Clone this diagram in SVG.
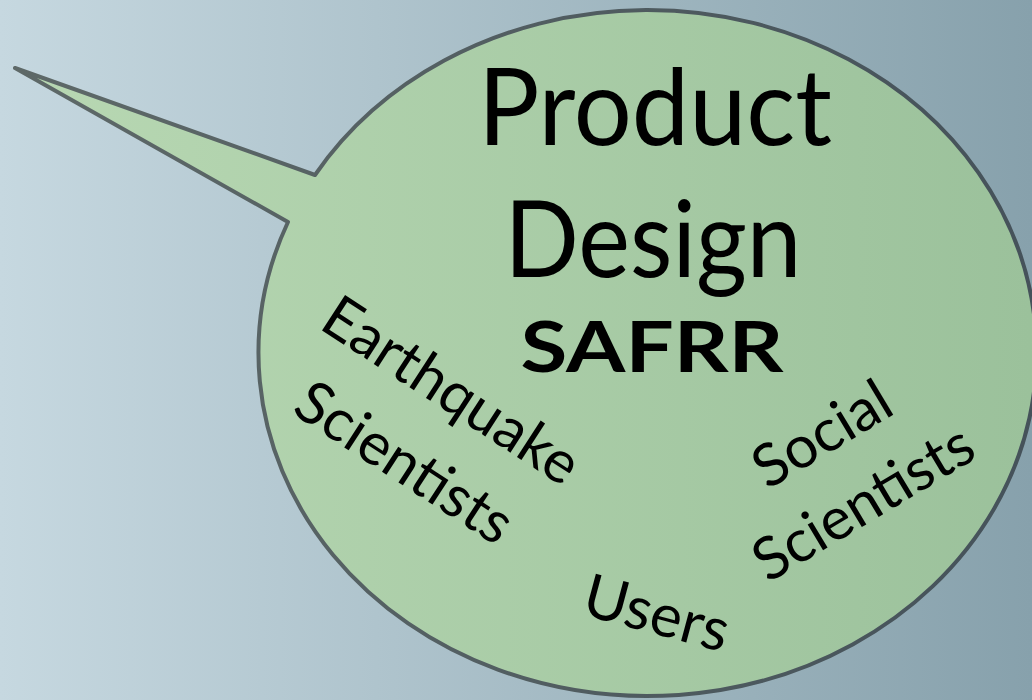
<svg xmlns="http://www.w3.org/2000/svg" width="1032" height="700" viewBox="0 0 1032 700">
<defs>
<linearGradient id="bg" x1="0" y1="0" x2="1" y2="0">
<stop offset="0" stop-color="#c6d8e0"/>
<stop offset="1" stop-color="#87a1ac"/>
</linearGradient>
<linearGradient id="fill" gradientUnits="userSpaceOnUse" x1="15" y1="0" x2="1032" y2="0">
<stop offset="0" stop-color="#b8d8b3"/>
<stop offset="1" stop-color="#9bc19b"/>
</linearGradient>
<linearGradient id="line" gradientUnits="userSpaceOnUse" x1="15" y1="0" x2="1032" y2="0">
<stop offset="0" stop-color="#5e6968"/>
<stop offset="1" stop-color="#45525a"/>
</linearGradient>
<style>
.t{font-family:Lato,"Gill Sans","Open Sans",sans-serif;fill:#000;}
.c{text-anchor:middle;}
</style>
</defs>
<rect width="1032" height="700" fill="url(#bg)"/>
<g id="bubble">
<path d="M315,175 L15,68 L288,222 A389,343 0 1 0 315,175 Z" fill="url(#fill)" stroke="url(#line)" stroke-width="4" stroke-linejoin="round"/>
</g>
<g id="title">
<text class="t c" x="655" y="145" font-size="106" textLength="354" lengthAdjust="spacingAndGlyphs">Product</text>
<text class="t c" x="653" y="277" font-size="106" textLength="297" lengthAdjust="spacingAndGlyphs">Design</text>
<text class="t c" x="652" y="372" font-size="70" font-weight="bold" textLength="263" lengthAdjust="spacingAndGlyphs">SAFRR</text>
</g>
<g id="earthquake" transform="translate(323,331) rotate(33)">
<text class="t c" x="140" y="0" font-size="59">Earthquake</text>
<text class="t c" x="140" y="86" font-size="59">Scientists</text>
</g>
<g id="social" transform="translate(768,490) rotate(-31)">
<text class="t c" x="75" y="0" font-size="59">Social</text>
<text class="t c" x="75" y="80" font-size="59">Scientists</text>
</g>
<g id="users" transform="translate(580,614) rotate(15)">
<text class="t" x="0" y="0" font-size="60">Users</text>
</g>
</svg>
